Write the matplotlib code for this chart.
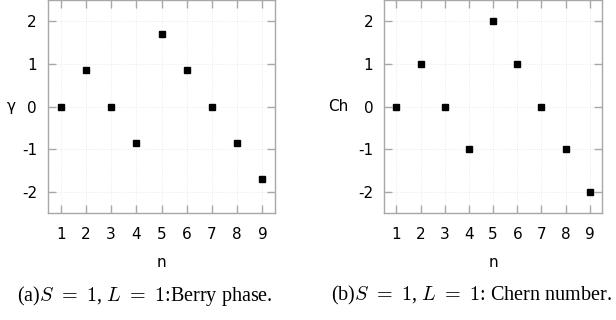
import numpy as np
import matplotlib
matplotlib.use('Agg')
import matplotlib.pyplot as plt

plt.rcParams['font.family'] = ['DejaVu Sans']
plt.rcParams['axes.unicode_minus'] = False
plt.rcParams['mathtext.fontset'] = 'cm'

n = [1, 2, 3, 4, 5, 6, 7, 8, 9]
berry = [0, 0.85, 0, -0.85, 1.7, 0.85, 0, -0.85, -1.7]
chern = [0, 1, 0, -1, 2, 1, 0, -1, -2]
yticks = [-2, -1, 0, 1, 2]
ytick_labels = ['-2', '-1', '0', '1', '2']
captions = [r'(a)$S\ =\ 1$, $L\ =\ 1$:Berry phase.',
            r'(b)$S\ =\ 1$, $L\ =\ 1$: Chern number.']

fig = plt.figure(figsize=(6.16, 3.2), dpi=100)
ax1 = fig.add_axes([0.078, 0.334, 0.3685, 0.666])
ax2 = fig.add_axes([0.624, 0.334, 0.353, 0.666])

frame = '#a8a8a8'
for ax, vals, lab, lx in [(ax1, berry, 'γ', -0.16), (ax2, chern, 'Ch', -0.214)]:
    ax.plot(n, vals, 's', color='black', ms=4.2, ls='none')
    ax.set_xlim(0.5, 9.5)
    ax.set_ylim(-2.5, 2.5)
    ax.set_xticks(n)
    ax.set_yticks(yticks)
    ax.set_yticklabels(ytick_labels)
    ax.tick_params(direction='in', length=6, width=1, color=frame, labelsize=11,
                   top=True, right=True)
    ax.tick_params(axis='x', pad=10)
    ax.tick_params(axis='y', pad=8)
    for s in ax.spines.values():
        s.set_color(frame)
        s.set_linewidth(1)
    ax.grid(True, ls=':', color='#e6e6e6', lw=0.6)
    ax.set_axisbelow(True)
    ax.set_xlabel('n', fontsize=11)
    ax.xaxis.set_label_coords(0.5, -0.195)
    ax.set_ylabel(lab, fontsize=11, rotation=0, va='center', ha='center')
    ax.yaxis.set_label_coords(lx, 0.5)

fig.text(0.235, 0.076, captions[0], ha='center', va='center', fontsize=14.5, family='Liberation Serif')
fig.text(0.765, 0.076, captions[1], ha='center', va='center', fontsize=14.5, family='Liberation Serif')

fig.savefig('out.png', dpi=100)
